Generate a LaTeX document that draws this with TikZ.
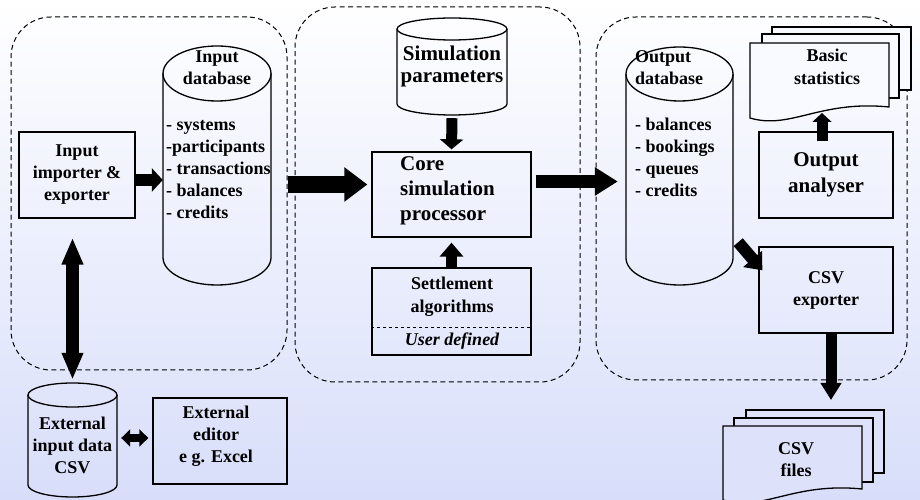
\documentclass[tikz,border=0pt]{standalone}
\usepackage{fontspec}
\setmainfont{Liberation Serif}
\usetikzlibrary{arrows.meta}
\definecolor{bgbot}{RGB}{216,222,250}
\definecolor{docfillA}{RGB}{249,250,255}
\definecolor{docfillB}{RGB}{221,226,250}
\tikzset{
  txt/.style={font=\fontsize{18}{22}\selectfont\bfseries, inner sep=0pt, align=center},
  bigtxt/.style={font=\fontsize{21}{25}\selectfont\bfseries, inner sep=0pt, align=center},
  box/.style={draw, line width=1.3pt, inner sep=0pt},
  container/.style={draw, dash pattern=on 5pt off 3.5pt, line width=1pt, rounded corners=40pt, inner sep=0pt},
  outline/.style={line width=1.3pt},
  ghost/.style={inner sep=0pt, draw=none},
}
\newcommand\mycyl[5]{% cx, rx, Ytop, Ybot, ry
  \draw[outline] ({#1-#2},#3) -- ({#1-#2},#4) arc[start angle=180, end angle=360, x radius=#2pt, y radius=#5pt] -- ({#1+#2},#3);
  \draw[outline] (#1,#3) ellipse [x radius=#2pt, y radius=#5pt];
}
\newcommand\mydoc[6]{% x1, x2, Ytop, Yleftbottom, Yrightbottom, fill
  \filldraw[outline, fill=#6] (#1,#3) -- (#2,#3) -- (#2,#5)
    .. controls ({#2-0.5*(#2-#1)},{#5+7}) and ({#1+0.29*(#2-#1)},{#4-12}) .. (#1,#4) -- cycle;
}
\begin{document}
\begin{tikzpicture}[x=1pt,y=1pt]
\useasboundingbox (0,0) rectangle (920,500);
\shade[top color=white, bottom color=bgbot] (0,0) rectangle (920,500);

% containers
\node[container, minimum width=276pt, minimum height=353pt] (Lc) at (149,306.5) {};
\node[container, minimum width=285pt, minimum height=375pt] (Mc) at (437.5,305.5) {};
\node[container, minimum width=311pt, minimum height=363pt] (Rc) at (751.5,301.5) {};

% input side
\node[box, txt, minimum width=116pt, minimum height=86pt] (imp) at (77,325) {Input\\importer \&\\exporter};
\node[ghost, minimum width=108pt, minimum height=184pt] (idb) at (217,334.5) {};
\mycyl{217}{54}{426.5}{242.5}{27.5}
\node[txt] (idbt) at (217,432) {Input\\database};
\node[txt, align=left, anchor=west] (idbl) at (166,330) {- systems\\-participants\\- transactions\\- balances\\- credits};

% core
\node[ghost, minimum width=110pt, minimum height=75pt] (sp) at (452,433.5) {};
\mycyl{452}{55}{471}{396}{11}
\node[bigtxt, font=\fontsize{21}{22}\selectfont\bfseries] (spt) at (452,434) {Simulation\\parameters};
\node[box, minimum width=159pt, minimum height=85pt] (core) at (451.5,305.5) {};
\node[bigtxt, align=left, anchor=west] (coret) at (400,309.5) {Core\\simulation\\processor};
\node[box, minimum width=159pt, minimum height=87pt] (st) at (451.5,188.5) {};
\draw[dashed, line width=1pt] ([yshift=-16.5pt]st.west) -- ([yshift=-16.5pt]st.east);
\node[txt, font=\fontsize{18}{23}\selectfont\bfseries] (stt) at (452,203) {Settlement\\algorithms};
\node[txt, font=\fontsize{18}{22}\selectfont\bfseries\itshape] (stu) at (452,158.5) {User defined};

% output side
\node[ghost, minimum width=107pt, minimum height=184pt] (odb) at (679.5,334) {};
\mycyl{679.5}{53.5}{426}{242}{27}
\node[txt, align=left, anchor=west] (odbt) at (635,432) {Output\\database};
\node[txt, align=left, anchor=west] (odbl) at (635,342.5) {- balances\\- bookings\\- queues\\- credits};

\filldraw[outline, fill=docfillA] (772,410) rectangle (911,473);
\filldraw[outline, fill=docfillA] (762,402) rectangle (899,466);
\mydoc{750}{889}{457}{382}{393}{docfillA}
\node[txt, font=\fontsize{18}{23}\selectfont\bfseries] (bst) at (827,433) {Basic\\statistics};
\coordinate (bsb) at (822,387);

\node[box, bigtxt, font=\fontsize{21}{26}\selectfont\bfseries, minimum width=134pt, minimum height=86pt] (an) at (826,325) {Output\\analyser};
\node[box, txt, minimum width=134pt, minimum height=86pt] (exp) at (826,210) {CSV\\exporter};

\filldraw[outline, fill=docfillB] (746,27) rectangle (884,90);
\filldraw[outline, fill=docfillB] (734,18) rectangle (873,82);
\mydoc{723}{862}{74}{0}{11}{docfillB}
\node[txt] (cft) at (796,40) {CSV\\files};
\coordinate (cfa) at (831,100);

% external
\node[ghost, minimum width=89pt, minimum height=90pt] (ext) at (72.5,60) {};
\mycyl{72.5}{44.5}{105}{15}{12}
\node[txt] (extt) at (72.5,54.5) {External\\input data\\CSV};
\node[box, minimum width=134pt, minimum height=86pt] (ed) at (220,59) {};
\node[txt] (edt) at (216,64) {External\\editor\\e g. Excel};

% arrows
\coordinate (a0) at ([yshift=-5pt]imp.east);
\coordinate (a0e) at (a0 -| idb.west);
\draw[line width=12pt, -{Triangle[length=11pt,width=23pt]}] (a0) -- (a0e);

\coordinate (a1) at ([yshift=10pt]core.west);
\coordinate (a1s) at (a1 -| Lc.east);
\draw[line width=17pt, -{Triangle[length=23pt,width=33pt]}] (a1s) -- ([xshift=-4pt]a1);

\coordinate (a2) at ([yshift=13pt]core.east);
\coordinate (a2e) at (a2 -| odb.west);
\draw[line width=13pt, -{Triangle[length=23pt,width=27pt]}] ([xshift=4pt]a2) -- ([xshift=-8pt]a2e);

\draw[line width=11pt, -{Triangle[length=10pt,width=23pt]}] ([yshift=-14pt]sp.south) -- ([yshift=2pt]core.north);
\draw[line width=11pt, -{Triangle[length=14pt,width=23pt]}] (st.north) -- ([yshift=-5pt]core.south);

\draw[line width=12pt, -{Triangle[length=15pt,width=24pt]}] ([xshift=5pt,yshift=16pt]odb.south east) -- ([xshift=4pt,yshift=-24pt]exp.north west);
\draw[line width=11pt, -{Triangle[length=9pt,width=19pt]}] ([xshift=-4pt,yshift=-10pt]an.north) -- (bsb);
\draw[line width=11pt, -{Triangle[length=17pt,width=20pt]}] ([xshift=5pt]exp.south) -- (cfa);

\coordinate (v1) at (imp.south -| ext.north);
\draw[line width=13pt, {Triangle[length=27pt,width=20pt]}-{Triangle[length=27pt,width=20pt]}] ([yshift=-19pt]v1) -- ([yshift=15pt]ext.north);
\coordinate (h1) at ([yshift=2pt]ext.east);
\coordinate (h2) at (h1 -| ed.west);
\draw[line width=8pt, {Triangle[length=9pt,width=17pt]}-{Triangle[length=9pt,width=17pt]}] ([xshift=4pt]h1) -- ([xshift=-4pt]h2);
\end{tikzpicture}
\end{document}
